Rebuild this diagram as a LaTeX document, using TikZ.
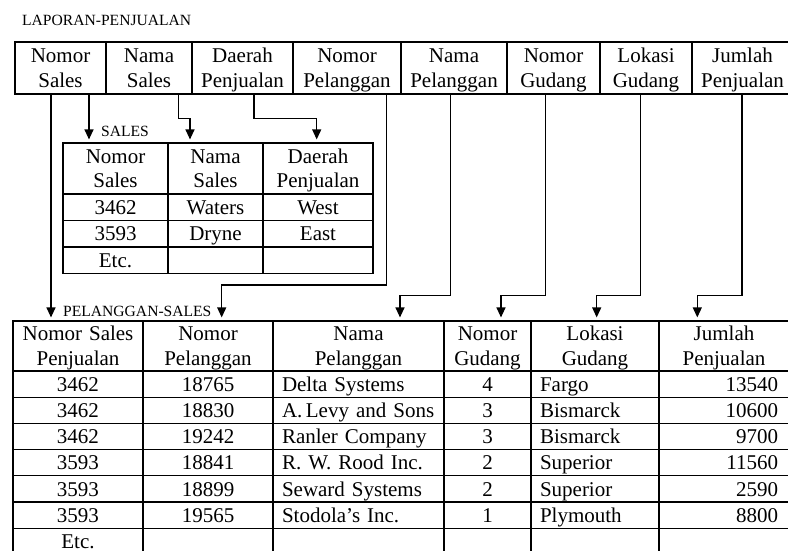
\documentclass[tikz,border=0pt]{standalone}
\usepackage{fontspec}
\setmainfont{Liberation Serif}
\usetikzlibrary{arrows.meta}

\newcommand\tabfont{\fontsize{21}{24.5}\selectfont}
\newcommand\namefont{\fontsize{15.6}{18}\selectfont}

% \cellat[options]{name}{x-left}{x-right}{y-top}{y-bottom}{text}
\newcommand\cellat[7][]{%
  \pgfmathsetmacro\cellcx{(#3+#4)/2}%
  \pgfmathsetmacro\cellcy{(#5+#6)/2}%
  \pgfmathsetmacro\cellw{#4-#3}%
  \pgfmathsetmacro\cellh{#6-#5}%
  \node[cellbox, minimum width=\cellw pt, minimum height=\cellh pt,
        text width=\cellw pt-4pt, #1] (#2) at (\cellcx,\cellcy) {#7};%
}

\begin{document}
\begin{tikzpicture}[x=1pt, y=-1pt,
  cellbox/.style={draw, line width=1.2pt, inner xsep=2pt, inner ysep=0pt,
    align=center, font=\tabfont, text height=14.2pt, text depth=0pt},
  hdr/.style={text depth=24.5pt},
  lcell/.style={align=left, inner xsep=9pt, text width=\cellw pt-18pt},
  rcell/.style={align=right, inner xsep=11pt, text width=\cellw pt-22pt},
  tname/.style={font=\namefont, inner sep=0pt, anchor=base west},
  arr/.style={line width=1.2pt, -{Triangle[length=10pt,width=9pt]}, shorten >=3pt}]

\useasboundingbox (0,0) rectangle (788,550);
\fill[white] (0,0) rectangle (788,550);
\clip (0,0) rectangle (788,550);

% ---- LAPORAN-PENJUALAN ----
\node[tname] (tlap) at (22,25) {LAPORAN-PENJUALAN};
\cellat[hdr]{lp1}{15}{106}{42}{94}{Nomor\\Sales}
\cellat[hdr]{lp2}{106}{192}{42}{94}{Nama\\Sales}
\cellat[hdr]{lp3}{192}{293}{42}{94}{Daerah\\Penjualan}
\cellat[hdr]{lp4}{293}{401}{42}{94}{Nomor\\Pelanggan}
\cellat[hdr]{lp5}{401}{507}{42}{94}{Nama\\Pelanggan}
\cellat[hdr]{lp6}{507}{600}{42}{94}{Nomor\\Gudang}
\cellat[hdr]{lp7}{600}{692}{42}{94}{Lokasi\\Gudang}
\cellat[hdr]{lp8}{692}{793}{42}{94}{Jumlah\\Penjualan}

% ---- SALES ----
\node[tname] (tsales) at (101,136.5) {SALES};
\cellat[hdr]{s11}{63}{168}{143}{194}{Nomor\\Sales}
\cellat[hdr]{s12}{168}{263}{143}{194}{Nama\\Sales}
\cellat[hdr]{s13}{263}{373}{143}{194}{Daerah\\Penjualan}
\cellat{s21}{63}{168}{194}{220.5}{3462}
\cellat{s22}{168}{263}{194}{220.5}{Waters}
\cellat{s23}{263}{373}{194}{220.5}{West}
\cellat{s31}{63}{168}{220.5}{247}{3593}
\cellat{s32}{168}{263}{220.5}{247}{Dryne}
\cellat{s33}{263}{373}{220.5}{247}{East}
\cellat{s41}{63}{168}{247}{273.5}{Etc.}
\cellat{s42}{168}{263}{247}{273.5}{}
\cellat{s43}{263}{373}{247}{273.5}{}

% ---- PELANGGAN-SALES ----
\node[tname] (tps) at (63,316) {PELANGGAN-SALES};
\cellat[hdr]{ph1}{13}{143}{321}{371}{Nomor Sales\\Penjualan}
\cellat[hdr]{ph2}{143}{273}{321}{371}{Nomor\\Pelanggan}
\cellat[hdr]{ph3}{273}{444}{321}{371}{Nama\\Pelanggan}
\cellat[hdr]{ph4}{444}{531}{321}{371}{Nomor\\Gudang}
\cellat[hdr]{ph5}{531}{659}{321}{371}{Lokasi\\Gudang}
\cellat[hdr]{ph6}{659}{789}{321}{371}{Jumlah\\Penjualan}

\foreach \r/\a/\b/\c/\d/\e/\f in {
    1/3462/18765/Delta Systems/4/Fargo/13540,
    2/3462/18830/\mbox{A.\,Levy and Sons}/3/Bismarck/10600,
    3/3462/19242/Ranler Company/3/Bismarck/9700,
    4/3593/18841/R. W. Rood Inc./2/Superior/11560,
    5/3593/18899/Seward Systems/2/Superior/2590,
    6/3593/19565/Stodola’s Inc./1/Plymouth/8800}{
  \pgfmathsetmacro\rowtop{371+(\r-1)*26.2}
  \pgfmathsetmacro\rowbot{\rowtop+26.2}
  \cellat{pd\r a}{13}{143}{\rowtop}{\rowbot}{\a}
  \cellat{pd\r b}{143}{273}{\rowtop}{\rowbot}{\b}
  \cellat[lcell]{pd\r c}{273}{444}{\rowtop}{\rowbot}{\c}
  \cellat{pd\r d}{444}{531}{\rowtop}{\rowbot}{\d}
  \cellat[lcell]{pd\r e}{531}{659}{\rowtop}{\rowbot}{\e}
  \cellat[rcell]{pd\r f}{659}{789}{\rowtop}{\rowbot}{\f}
}
\cellat{pe1}{13}{143}{528.2}{554.4}{Etc.}
\cellat{pe2}{143}{273}{528.2}{554.4}{}
\cellat{pe3}{273}{444}{528.2}{554.4}{}
\cellat{pe4}{444}{531}{528.2}{554.4}{}
\cellat{pe5}{531}{659}{528.2}{554.4}{}
\cellat{pe6}{659}{789}{528.2}{554.4}{}

% ---- dependency arrows ----
\draw[arr] ([xshift=-9.5pt]lp1.south) -- ([xshift=-27pt]ph1.north);
\draw[arr] ([xshift=28.5pt]lp1.south) -- ([xshift=-26.5pt]s11.north);
\draw[arr] ([xshift=29.3pt]lp2.south) -- ++(0,23.7) -| ([xshift=-25.5pt]s12.north);
\draw[arr] ([xshift=11.5pt]lp3.south) -- ++(0,23.7) -| ([xshift=-1.3pt]s13.north);
\draw[arr] ([xshift=39.7pt]lp4.south) -- ++(0,190.3) -| ([xshift=13.7pt]ph2.north);
\draw[arr] ([xshift=-3.3pt]lp5.south) -- ++(0,201) -| ([xshift=41.5pt]ph3.north);
\draw[arr] ([xshift=-7.8pt]lp6.south) -- ++(0,201) -| ([xshift=13.5pt]ph4.north);
\draw[arr] ([xshift=-5.3pt]lp7.south) -- ++(0,201) -| ([xshift=1.7pt]ph5.north);
\draw[arr] ([xshift=-0.5pt]lp8.south) -- ++(0,201) -| ([xshift=-26.7pt]ph6.north);
\end{tikzpicture}
\end{document}
